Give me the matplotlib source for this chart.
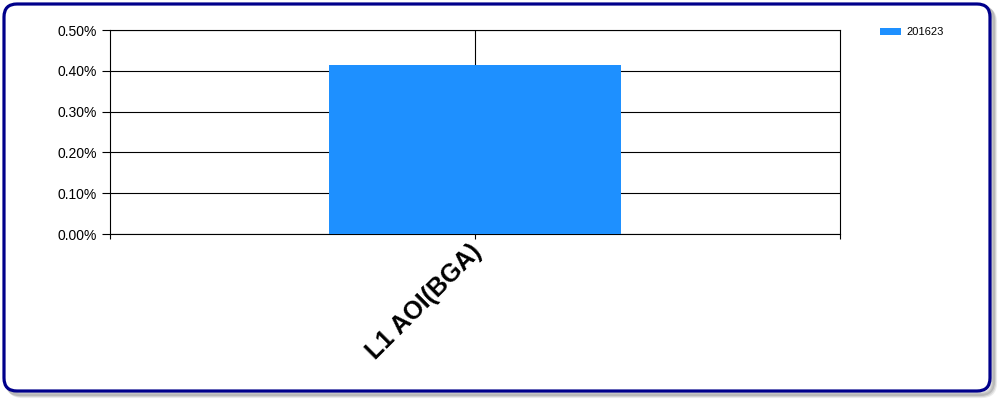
import matplotlib
matplotlib.use("Agg")
import matplotlib.pyplot as plt
from matplotlib.patches import FancyBboxPatch
from matplotlib.transforms import IdentityTransform, ScaledTranslation
from matplotlib.ticker import PercentFormatter, FixedLocator

plt.rcParams['font.family'] = ['Liberation Sans', 'DejaVu Sans']

categories = ["L1 AOI(BGA)"]
series_name = "201623"
values = [0.415]  # percent
y_ticks = [0.0, 0.1, 0.2, 0.3, 0.4, 0.5]

bar_color = "#1E90FF"
border_color = "#00008B"

fig = plt.figure(figsize=(10, 4), dpi=100)
fig.patch.set_facecolor("white")

# shadow + border (pixel coordinates)
for off, a in [(5, 0.10), (4, 0.15), (3, 0.2)]:
    sh = FancyBboxPatch((4 + off, 9 - off), 986, 387, boxstyle="round,pad=0,rounding_size=13",
                        transform=IdentityTransform(), facecolor="none",
                        edgecolor=(0.3, 0.3, 0.3, a), linewidth=3, zorder=-3)
    fig.patches.append(sh)
border = FancyBboxPatch((4, 9), 986, 387, boxstyle="round,pad=0,rounding_size=13",
                        transform=IdentityTransform(), facecolor="white",
                        edgecolor=border_color, linewidth=2.3, zorder=-2)
fig.patches.append(border)

ax = fig.add_axes([0.11, 0.415, 0.73, 0.51])
ax.set_zorder(2)
ax.set_facecolor("none")
x = list(range(len(categories)))
bars = ax.bar(x, values, width=0.4, color=bar_color, zorder=3, label=series_name)

ax.set_xlim(-0.5, len(categories) - 0.5)
ax.set_ylim(0, 0.5)
ax.set_yticks(y_ticks)
ax.yaxis.set_major_formatter(PercentFormatter(xmax=100, decimals=2))
ax.set_xticks(x)
ax.set_xticklabels(categories, rotation=45, ha="right", rotation_mode="anchor",
                   fontsize=18, fontweight="bold")
ax.xaxis.set_minor_locator(FixedLocator([-0.5, len(categories) - 0.5]))

ax.tick_params(axis="y", length=6, width=0.8, pad=3.5, labelsize=10, colors="black")
ax.tick_params(axis="x", which="both", length=3.8, width=0.8, pad=3)
for lbl in ax.get_xticklabels():
    lbl.set_transform(lbl.get_transform() + ScaledTranslation(-6/100, 4/100, fig.dpi_scale_trans))

ax.grid(True, axis="both", which="major", color="black", linewidth=0.8, zorder=0)
ax.set_axisbelow(True)
for s in ax.spines.values():
    s.set_color("black")
    s.set_linewidth(0.8)

ax.legend(loc="upper left", bbox_to_anchor=(0.880, 0.932), bbox_transform=fig.transFigure,
          frameon=False, fontsize=8, handlelength=1.9, handleheight=0.55,
          handletextpad=0.5, borderpad=0, borderaxespad=0)

fig.savefig("out.png", dpi=100)
